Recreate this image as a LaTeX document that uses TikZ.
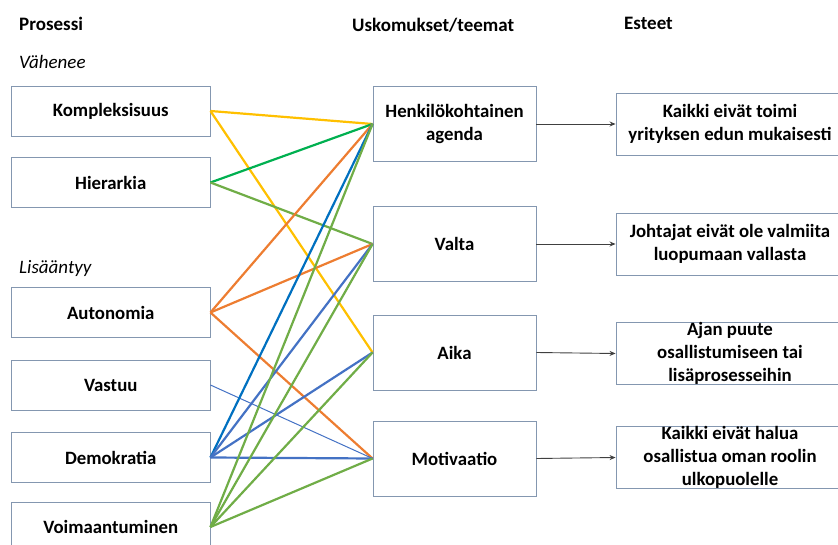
\documentclass[tikz,border=0pt]{standalone}
\usepackage{fontspec}
\setmainfont{Carlito}
\usetikzlibrary{arrows.meta}
\definecolor{boxline}{RGB}{132,151,176}
\definecolor{cyellow}{RGB}{255,192,0}
\definecolor{cgreen}{RGB}{0,176,80}
\definecolor{clgreen}{RGB}{112,173,71}
\definecolor{corange}{RGB}{237,125,49}
\definecolor{cblue}{RGB}{68,114,196}
\definecolor{cdblue}{RGB}{0,112,192}
\definecolor{arrowgray}{RGB}{64,64,64}
\tikzset{
  basebox/.style={draw=boxline, line width=0.9pt, fill=white, align=center,
    font=\fontsize{18.8}{22.7}\selectfont\bfseries, inner sep=0pt},
  leftbox/.style={basebox, minimum width=198.5pt, minimum height=50pt},
  midbox/.style={basebox, minimum width=163pt, minimum height=75pt},
  rightbox/.style={basebox, minimum width=228pt, minimum height=62pt},
  header/.style={font=\fontsize{19}{22}\selectfont\bfseries, inner sep=0pt, anchor=base west},
  subhead/.style={font=\fontsize{19}{22}\selectfont\itshape, inner sep=0pt, anchor=base west},
  link/.style={line width=2.2pt},
  thinlink/.style={line width=1pt},
  barrow/.style={draw=arrowgray, line width=0.9pt, -{Stealth[length=6pt,width=5pt]}}
}
\begin{document}
\begin{tikzpicture}[x=1pt,y=-1pt]
\useasboundingbox (0,0) rectangle (838,545);
\begin{scope}
\clip (0,0) rectangle (838,545);
% headers
\node[header] (hp) at (19,31) {Prosessi};
\node[header] (hu) at (352,32) {Uskomukset/teemat};
\node[header] (he) at (624,30) {Esteet};
\node[subhead] (sv) at (19,69) {Vähenee};
\node[subhead] (sl) at (19,274) {Lisääntyy};
% left boxes
\node[leftbox] (kom) at (110.75,111) {Kompleksisuus};
\node[leftbox] (hie) at (110.75,182.5) {Hierarkia};
\node[leftbox] (aut) at (110.75,312.5) {Autonomia};
\node[leftbox] (vas) at (110.75,385) {Vastuu};
\node[leftbox] (dem) at (110.75,457.5) {Demokratia};
\node[leftbox] (voi) at (110.75,527) {Voimaantuminen};
% middle boxes
\node[midbox] (hen) at (454.5,124) {Henkilökohtainen\\agenda};
\node[midbox] (val) at (454.5,244) {Valta};
\node[midbox] (aik) at (454.5,352.5) {Aika};
\node[midbox] (mot) at (454.5,458.5) {Motivaatio};
% right boxes
\node[rightbox] (r1) at (730,124) {Kaikki eivät toimi\\yrityksen edun mukaisesti};
\node[rightbox] (r2) at (730,244) {Johtajat eivät ole valmiita\\luopumaan vallasta};
\node[rightbox] (r3) at (730,353.5) {Ajan puute\\osallistumiseen tai\\lisäprosesseihin};
\node[rightbox] (r4) at (730,457.5) {Kaikki eivät halua\\osallistua oman roolin\\ulkopuolelle};
% connectors
\draw[link, cyellow] (kom.east) -- (hen.west);
\draw[link, cyellow] (kom.east) -- (aik.west);
\draw[link, cgreen] (hie.east) -- (hen.west);
\draw[link, clgreen] (hie.east) -- (val.west);
\draw[link, corange] (aut.east) -- (hen.west);
\draw[link, corange] (aut.east) -- (val.west);
\draw[link, corange] (aut.east) -- (mot.west);
\draw[thinlink, cblue] (vas.east) -- (mot.west);
\draw[link, cdblue] (dem.east) -- (hen.west);
\draw[link, cblue] (dem.east) -- (val.west);
\draw[link, cblue] (dem.east) -- (aik.west);
\draw[link, cblue] (dem.east) -- (mot.west);
\draw[link, clgreen] (voi.east) -- (hen.west);
\draw[link, clgreen] (voi.east) -- (val.west);
\draw[link, clgreen] (voi.east) -- (aik.west);
\draw[link, clgreen] (voi.east) -- (mot.west);
% arrows
\draw[barrow] (hen.east) -- (r1.west);
\draw[barrow] (val.east) -- (r2.west);
\draw[barrow] (aik.east) -- (r3.west);
\draw[barrow] (mot.east) -- (r4.west);
\end{scope}
\end{tikzpicture}
\end{document}
